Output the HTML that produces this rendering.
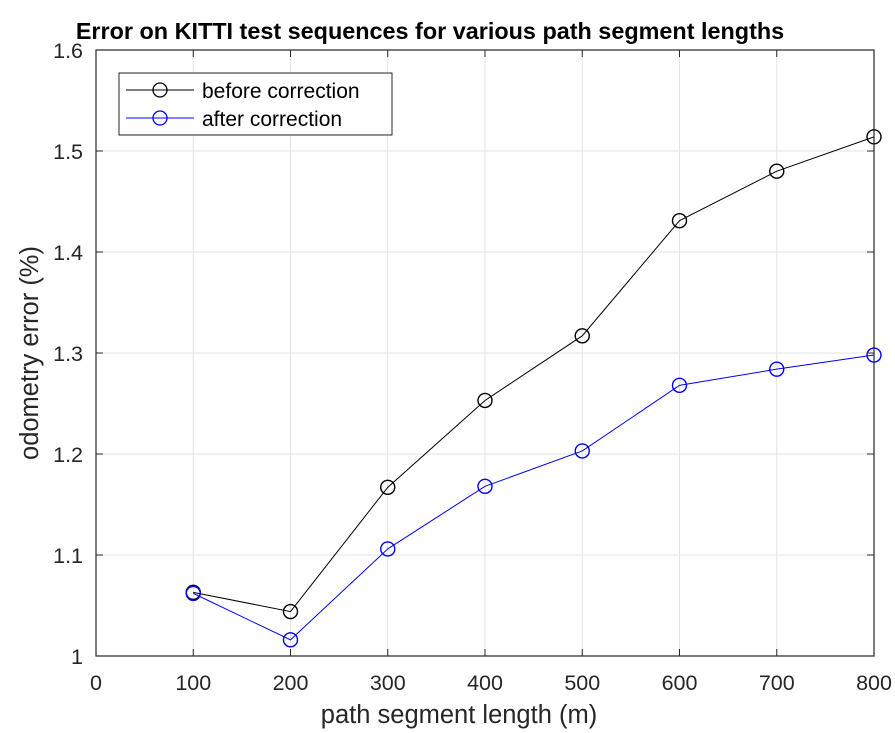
<!DOCTYPE html>
<html><head><meta charset="utf-8">
<style>
html,body{margin:0;padding:0;background:#fff;}
svg{display:block;font-family:"Liberation Sans",Arial,sans-serif;}
</style></head>
<body>
<svg id="chart" width="895" height="733" viewBox="0 0 895 733">
<rect x="0" y="0" width="895" height="733" fill="#fff"/>
<g id="grid"></g>
<g id="series"></g>
<g id="axes"></g>
<text x="430" y="39" text-anchor="middle" font-size="23.4" font-weight="bold" fill="#000">Error on KITTI test sequences for various path segment lengths</text>
<text x="459" y="723" text-anchor="middle" font-size="25.5" fill="#262626">path segment length (m)</text>
<text transform="translate(38,353) rotate(-90)" text-anchor="middle" font-size="25.5" fill="#262626">odometry error (%)</text>
<g>
<rect x="119" y="73" width="273" height="62" fill="#fff" stroke="#262626" stroke-width="1"/>
<g>
<line x1="126" y1="90" x2="194" y2="90" stroke="#000" stroke-width="1"/>
<circle cx="160" cy="90" r="7" fill="none" stroke="#000" stroke-width="1.3"/>
<text x="202" y="98" font-size="21" fill="#000">before correction</text>
</g>
<g>
<line x1="126" y1="118" x2="194" y2="118" stroke="#0000ff" stroke-width="1"/>
<circle cx="160" cy="118" r="7" fill="none" stroke="#0000ff" stroke-width="1.3"/>
<text x="202" y="126" font-size="21" fill="#000">after correction</text>
</g>
</g>
</svg>
<script>
const categories = [100, 200, 300, 400, 500, 600, 700, 800];
const beforeValues = [1.063, 1.044, 1.167, 1.253, 1.317, 1.431, 1.480, 1.514];
const afterValues = [1.062, 1.016, 1.106, 1.168, 1.203, 1.268, 1.284, 1.298];
const xTicks = [0, 100, 200, 300, 400, 500, 600, 700, 800];
const yTicks = [1, 1.1, 1.2, 1.3, 1.4, 1.5, 1.6];
const yTickLabels = ["1", "1.1", "1.2", "1.3", "1.4", "1.5", "1.6"];

const L = 96, R = 874, T = 50, B = 656;
const xS = v => L + (v - 0) / 800 * (R - L);
const yS = v => B - (v - 1) / 0.6 * (B - T);
const NS = "http://www.w3.org/2000/svg";
function mk(tag, attrs, parent) {
  const e = document.createElementNS(NS, tag);
  for (const k in attrs) e.setAttribute(k, attrs[k]);
  parent.appendChild(e);
  return e;
}
const grid = document.getElementById('grid');
const axes = document.getElementById('axes');
const series = document.getElementById('series');

xTicks.forEach(t => {
  const x = xS(t);
  if (t > 0 && t < 800) {
    const g = mk('line', {x1: x, y1: T, x2: x, y2: B, stroke: '#e3e3e3', 'stroke-width': 1}, grid);
    
    
  }
  mk('line', {x1: x, y1: B, x2: x, y2: B - 7, stroke: '#262626', 'stroke-width': 1}, axes);
  mk('line', {x1: x, y1: T, x2: x, y2: T + 7, stroke: '#262626', 'stroke-width': 1}, axes);
  const tx = mk('text', {x: x, y: B + 34, 'text-anchor': 'middle', 'font-size': 21.5, fill: '#262626'}, axes);
  tx.textContent = String(t);
  
  
});
yTicks.forEach((t, i) => {
  const y = yS(t);
  if (i > 0 && i < yTicks.length - 1) {
    const g = mk('line', {x1: L, y1: y, x2: R, y2: y, stroke: '#e3e3e3', 'stroke-width': 1}, grid);
    
    
  }
  mk('line', {x1: L, y1: y, x2: L + 7, y2: y, stroke: '#262626', 'stroke-width': 1}, axes);
  mk('line', {x1: R, y1: y, x2: R - 7, y2: y, stroke: '#262626', 'stroke-width': 1}, axes);
  const tx = mk('text', {x: L - 13, y: y + 8, 'text-anchor': 'end', 'font-size': 21.5, fill: '#262626'}, axes);
  tx.textContent = yTickLabels[i];
  
  
});
const box = mk('rect', {x: L, y: T, width: R - L, height: B - T, fill: 'none', stroke: '#262626', 'stroke-width': 1.2}, axes);



function drawSeries(vals, color, name) {
  const pts = vals.map((v, i) => xS(categories[i]) + ',' + yS(v)).join(' ');
  const pl = mk('polyline', {points: pts, fill: 'none', stroke: color, 'stroke-width': 1}, series);
  
  
  vals.forEach((v, i) => {
    const c = mk('circle', {cx: xS(categories[i]), cy: yS(v), r: 7, fill: 'none', stroke: color, 'stroke-width': 1.4}, series);
    
    
  });
}
drawSeries(beforeValues, '#000000', 'before-correction');
drawSeries(afterValues, '#0000ff', 'after-correction');
</script>
</body></html>
